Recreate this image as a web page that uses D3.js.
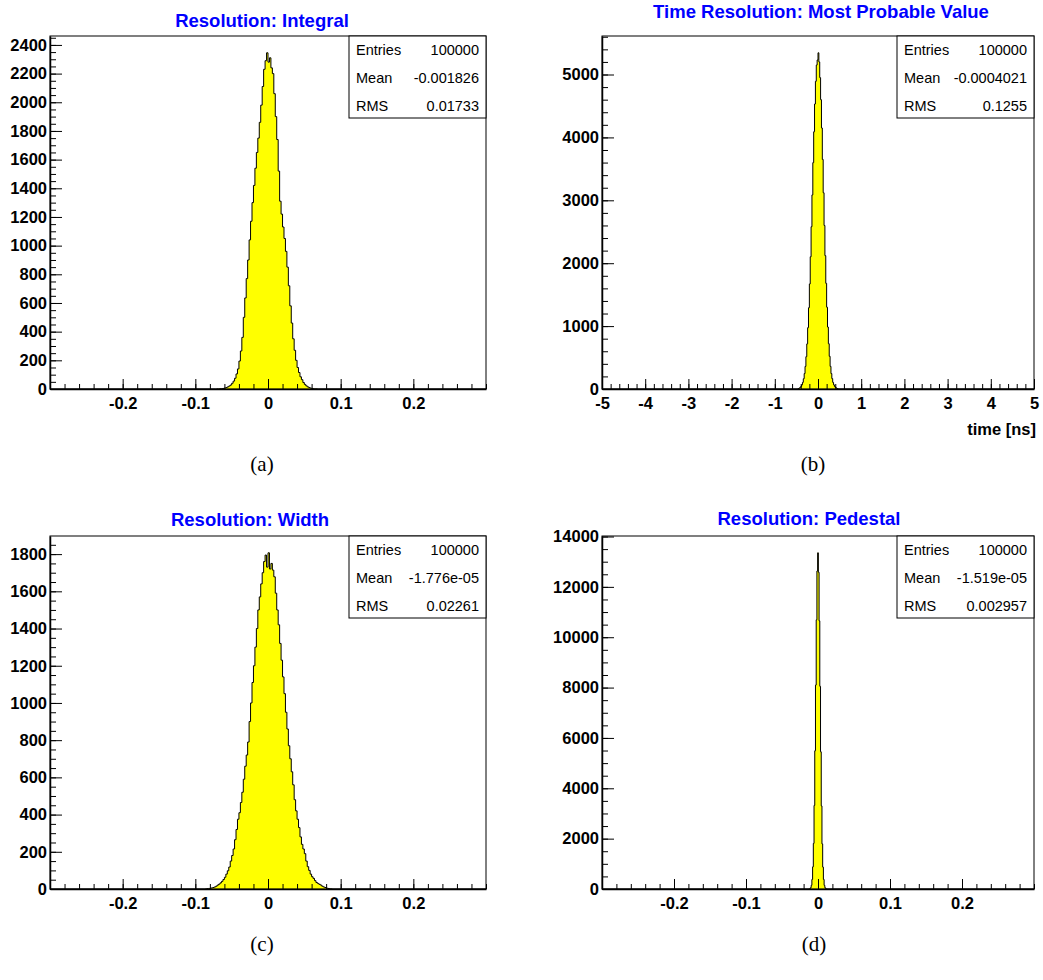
<!DOCTYPE html>
<html>
<head>
<meta charset="utf-8">
<script src="https://cdn.jsdelivr.net/npm/d3@7"></script>
<style>
  body { margin: 0; background: #fff; }
  svg { display: block; }
</style>
</head>
<body>
<div id="chart"></div>
<script>
// bin contents (first bin low edge + bin width)
const integralLo = -0.072, integralBinWidth = 0.002;
const integralCounts = [0,1,1,2,3,4,7,10,15,21,
  28,40,55,75,105,140,195,265,360,500,
  635,770,900,1040,1170,1300,1420,1540,1650,1750,
  1860,1980,2110,2230,2290,2345,2280,2310,2240,2200,
  2060,1900,1740,1520,1310,1220,1130,1050,960,850,
  720,580,460,350,270,200,150,115,85,65,
  45,32,22,15,10,6,4,2,1,1,0];
const integralStats = [["Entries","100000"],["Mean","-0.001826"],["RMS","0.01733"]];

const timeLo = -0.46, timeBinWidth = 0.02;
const timeCounts = [8,14,25,41,66,105,163,245,359,514,
  717,975,1292,1670,2102,2580,3086,3599,4090,4531,
  4892,5150,5230,5345,5200,4950,4600,4150,3650,3120,
  2600,2120,1680,1300,985,720,520,360,245,165,
  105,66,40,24,14,8];
const timeStats = [["Entries","100000"],["Mean","-0.0004021"],["RMS","0.1255"]];

const widthLo = -0.088, widthBinWidth = 0.002;
const widthCounts = [0,1,2,3,4,6,8,11,15,21,
  26,33,41,51,63,80,98,118,150,180,
  215,265,320,375,410,465,520,590,660,720,
  790,900,1000,1110,1200,1300,1400,1500,1570,1640,
  1700,1760,1795,1730,
  1807,1720,1750,1714,1678,1590,1500,1420,1320,1230,
  1140,1050,950,860,770,700,630,560,480,420,
  375,330,280,240,215,190,150,120,100,80,
  66,57,45,35,30,25,21,15,11,8,
  5,3,2,1];
const widthStats = [["Entries","100000"],["Mean","-1.776e-05"],["RMS","0.02261"]];

const pedestalLo = -0.0135, pedestalBinWidth = 0.001;
const pedestalCounts = [2,5,16,52,148,380,880,1810,3320,5490,
  8100,10690,12630,13353,12580,10650,8050,5450,3300,1790,
  870,380,145,50,15,5,2];
const pedestalStats = [["Entries","100000"],["Mean","-1.519e-05"],["RMS","0.002957"]];

const shortRange = [-0.3, 0.3];
const timeRange = [-5, 5];

const panels = [
  { title: "Resolution: Integral", titleX: 262, titleY: 26.5,
    left: 50, top: 36, width: 436, height: 353,
    counts: integralCounts, lo: integralLo, bw: integralBinWidth, xDomain: shortRange,
    xMajor: 0.1, xMinor: 0.02, labelEnds: false, yMajor: 200, yMinor: 50,
    stats: integralStats, caption: "(a)", capX: 262, capY: 471 },
  { title: "Time Resolution: Most Probable Value", titleX: 821, titleY: 18,
    left: 602, top: 36, width: 432, height: 353,
    counts: timeCounts, lo: timeLo, bw: timeBinWidth, xDomain: timeRange,
    xMajor: 1, xMinor: 0.2, labelEnds: true, yMajor: 1000, yMinor: 200,
    stats: timeStats, caption: "(b)", capX: 813, capY: 471, xTitle: "time [ns]" },
  { title: "Resolution: Width", titleX: 250, titleY: 525.5,
    left: 50, top: 536, width: 436, height: 353,
    counts: widthCounts, lo: widthLo, bw: widthBinWidth, xDomain: shortRange,
    xMajor: 0.1, xMinor: 0.02, labelEnds: false, yMajor: 200, yMinor: 50,
    stats: widthStats, caption: "(c)", capX: 262, capY: 951 },
  { title: "Resolution: Pedestal", titleX: 809, titleY: 525,
    left: 602, top: 536, width: 432, height: 353,
    counts: pedestalCounts, lo: pedestalLo, bw: pedestalBinWidth, xDomain: shortRange,
    xMajor: 0.1, xMinor: 0.02, labelEnds: false, yMajor: 2000, yMinor: 500,
    stats: pedestalStats, caption: "(d)", capX: 814, capY: 951 }
];

const sans = "'Liberation Sans', Arial, Helvetica, sans-serif";
const serif = "'Liberation Serif', 'Times New Roman', serif";

const svg = d3.select("#chart")
  .append("svg")
  .attr("width", 1043)
  .attr("height", 980);

// ticks on a fixed step, without float noise
function stepTicks(lo, hi, step) {
  const out = [];
  const i0 = Math.ceil(lo / step - 1e-6), i1 = Math.floor(hi / step + 1e-6);
  for (let i = i0; i <= i1; i++) out.push(+(i * step).toFixed(10));
  return out;
}

panels.forEach(p => {
  const g = svg.append("g");
  const yMax = d3.max(p.counts) * 1.05;

  const x = d3.scaleLinear().domain(p.xDomain).range([p.left, p.left + p.width]);
  const y = d3.scaleLinear().domain([0, yMax]).range([p.top + p.height, p.top]);

  // histogram as steps
  const pts = [{ x: p.xDomain[0], y: 0 }];
  p.counts.forEach((c, i) => pts.push({ x: p.lo + i * p.bw, y: c }));
  pts.push({ x: p.lo + p.counts.length * p.bw, y: 0 });
  pts.push({ x: p.xDomain[1], y: 0 });

  const area = d3.area()
    .x(d => x(d.x)).y0(y(0)).y1(d => y(d.y))
    .curve(d3.curveStepAfter);
  const line = d3.line()
    .x(d => x(d.x)).y(d => y(d.y))
    .curve(d3.curveStepAfter);

  g.append("path").attr("d", area(pts)).attr("fill", "#ffff00");
  g.append("path").attr("d", line(pts)).attr("fill", "none")
    .attr("stroke", "#000").attr("stroke-width", 1);

  // frame
  g.append("rect")
    .attr("x", p.left).attr("y", p.top)
    .attr("width", p.width).attr("height", p.height)
    .attr("fill", "none").attr("stroke", "#000").attr("stroke-width", 1);

  // x axis (ticks point inward)
  const xMaj = stepTicks(p.xDomain[0], p.xDomain[1], p.xMajor);
  const xMin = stepTicks(p.xDomain[0], p.xDomain[1], p.xMinor);
  const xLab = p.labelEnds ? xMaj : xMaj.filter(v => v > p.xDomain[0] + 1e-9 && v < p.xDomain[1] - 1e-9);

  g.append("g")
    .attr("transform", `translate(0,${p.top + p.height})`)
    .call(d3.axisBottom(x).tickValues(xMin).tickSize(-5).tickSizeOuter(0).tickFormat(""))
    .call(a => a.select(".domain").remove());
  g.append("g")
    .attr("transform", `translate(0,${p.top + p.height})`)
    .call(d3.axisBottom(x).tickValues(xLab).tickSize(-10).tickSizeOuter(0).tickPadding(8)
      .tickFormat(v => String(v)))
    .call(a => a.select(".domain").attr("stroke-width", 1.5))
    .attr("font-family", sans).attr("font-size", 16.5).attr("font-weight", "bold");

  // y axis
  const yMaj = stepTicks(0, yMax, p.yMajor);
  const yMin = stepTicks(0, yMax, p.yMinor);
  g.append("g")
    .attr("transform", `translate(${p.left},0)`)
    .call(d3.axisLeft(y).tickValues(yMin).tickSize(-6).tickSizeOuter(0).tickFormat(""))
    .call(a => a.select(".domain").remove());
  g.append("g")
    .attr("transform", `translate(${p.left},0)`)
    .call(d3.axisLeft(y).tickValues(yMaj).tickSize(-12).tickSizeOuter(0).tickPadding(3)
      .tickFormat(v => String(v)))
    .call(a => a.select(".domain").attr("stroke-width", 1.5))
    .attr("font-family", sans).attr("font-size", 16.5).attr("font-weight", "bold");

  if (p.xTitle) {
    g.append("text")
      .attr("x", p.left + p.width + 2).attr("y", p.top + p.height + 46)
      .attr("text-anchor", "end")
      .attr("font-family", sans).attr("font-size", 16.5).attr("font-weight", "bold")
      .text(p.xTitle);
  }

  // title
  g.append("text")
    .attr("x", p.titleX).attr("y", p.titleY)
    .attr("text-anchor", "middle")
    .attr("font-family", sans).attr("font-size", 18.5).attr("font-weight", "bold")
    .attr("fill", "#0000ff")
    .text(p.title);

  // stats box
  const bw = 137, bh = 82;
  const bx = p.left + p.width - bw;
  const sb = g.append("g");
  sb.append("rect")
    .attr("x", bx).attr("y", p.top).attr("width", bw).attr("height", bh)
    .attr("fill", "#fff").attr("stroke", "#000").attr("stroke-width", 1);
  p.stats.forEach((s, i) => {
    const ty = p.top + 19 + i * 28;
    sb.append("text").attr("x", bx + 7).attr("y", ty)
      .attr("font-family", sans).attr("font-size", 14.5).text(s[0]);
    sb.append("text").attr("x", bx + bw - 7).attr("y", ty)
      .attr("text-anchor", "end")
      .attr("font-family", sans).attr("font-size", 14.5).text(s[1]);
  });

  // caption
  g.append("text")
    .attr("x", p.capX).attr("y", p.capY)
    .attr("text-anchor", "middle")
    .attr("font-family", serif).attr("font-size", 21)
    .text(p.caption);
});
</script>
</body>
</html>
